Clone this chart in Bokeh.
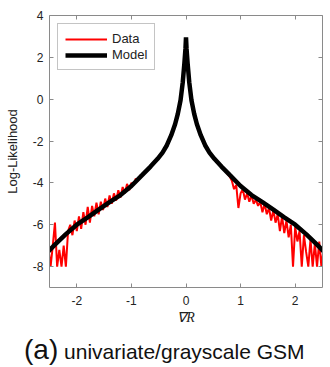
import numpy as np
from bokeh.plotting import figure
from bokeh.layouts import column
from bokeh.models import Range1d, LinearAxis, Legend, LegendItem, FixedTicker, Div
from bokeh.embed import file_html
from bokeh.resources import INLINE

# Model curve
model_x = [-2.55, -2.4, -2.2, -2.0, -1.8, -1.6, -1.4, -1.2, -1.0, -0.8, -0.65, -0.52, -0.43, -0.35,
           -0.27, -0.2, -0.15, -0.1, -0.06, -0.03, -0.01, 0.0,
           0.01, 0.03, 0.06, 0.1, 0.15, 0.2, 0.27, 0.35, 0.43, 0.52, 0.65, 0.8, 1.0, 1.2, 1.4,
           1.6, 1.8, 2.0, 2.2, 2.4, 2.55]
model_y = [-7.35, -6.95, -6.45, -6.0, -5.65, -5.28, -4.92, -4.58, -4.15, -3.62, -3.22, -2.85, -2.55, -2.2,
           -1.72, -1.2, -0.7, -0.05, 0.8, 1.7, 2.4, 2.95,
           2.4, 1.7, 0.8, -0.05, -0.7, -1.2, -1.72, -2.2, -2.55, -2.85, -3.22, -3.62, -4.15, -4.58, -4.92,
           -5.28, -5.65, -6.0, -6.45, -6.95, -7.35]

# Data (empirical histogram), left tail, centre, right tail
left_x = list(np.round(np.arange(-2.52, -0.79, 0.04), 2))
left_y = [-7.1, -8.0, -7.0, -5.9, -8.0, -7.2, -8.0, -7.0, -8.0, -6.3,
          -6.0, -6.5, -5.8, -6.3, -5.6, -6.2, -5.4, -6.0, -5.15, -5.9, -5.1, -5.6,
          -4.95, -5.5, -4.9, -5.3, -4.75, -5.15, -4.6, -5.0, -4.5, -4.85, -4.35, -4.7,
          -4.2, -4.5, -4.05, -4.35, -4.0, -4.1, -3.8, -3.9, -3.65, -3.6]
center_x = [-0.65, -0.52, -0.43, -0.35, -0.27, -0.2, -0.15, -0.1, -0.06, -0.03, -0.01, 0.0,
            0.01, 0.03, 0.06, 0.1, 0.15, 0.2, 0.27, 0.35, 0.43, 0.52, 0.65]
center_y = [-3.22, -2.85, -2.55, -2.2, -1.72, -1.2, -0.7, -0.05, 0.8, 1.7, 2.4, 2.9,
            2.4, 1.7, 0.8, -0.05, -0.7, -1.2, -1.72, -2.2, -2.55, -2.85, -3.22]
right_x = list(np.round(np.arange(0.80, 2.53, 0.04), 2))
right_y = [-3.7, -3.9, -4.3, -4.1, -5.2,
           -4.5, -4.3, -4.8, -4.5, -4.9, -4.6, -5.0, -4.8, -5.1, -4.9, -5.4, -5.0, -5.5,
           -5.2, -5.8, -5.3, -5.9, -5.5, -6.3, -5.6, -6.4, -5.8, -6.6, -6.0, -8.0,
           -6.1, -6.8, -6.3, -8.0, -6.5, -7.3, -8.0, -6.7, -8.0, -6.9, -8.0, -6.8, -8.0, -7.1]

data_x = left_x + center_x + right_x
data_y = left_y + center_y + right_y

x_ticks = [-2, -1, 0, 1, 2]
x_tick_labels = ["-2", "-1", "0", "1", "2"]
y_ticks = [-8, -6, -4, -2, 0, 2, 4]
y_tick_labels = ["-8", "-6", "-4", "-2", "0", "2", "4"]

caption_tag = "(a)"
caption_text = "univariate/grayscale GSM"

FONT = "Liberation Sans"
AX = "#8a8a8a"
TXT = "#222222"

p = figure(width=330, height=333, x_range=Range1d(-2.5, 2.5), y_range=Range1d(-9, 4),
           output_backend="svg", toolbar_location=None,
           min_border_left=49, min_border_right=8, min_border_top=15, min_border_bottom=46,
           x_axis_label="∇R", y_axis_label="Log-Likelihood")
p.outline_line_color = None
p.xgrid.visible = False
p.ygrid.visible = False
p.background_fill_color = "white"
p.border_fill_color = "white"

r_data = p.line(data_x, data_y, line_color="#ff0000", line_width=2)
r_model = p.line(model_x, model_y, line_color="black", line_width=4.5)

# axes styling
for ax, ticks, labs in ((p.xaxis[0], x_ticks, x_tick_labels), (p.yaxis[0], y_ticks, y_tick_labels)):
    ax.ticker = FixedTicker(ticks=ticks)
    ax.major_label_overrides = {t: s for t, s in zip(ticks, labs)}
    ax.minor_tick_line_color = None
    ax.major_tick_in = 4
    ax.major_tick_out = 0
    ax.major_tick_line_color = AX
    ax.axis_line_color = AX
    ax.major_label_text_font = FONT
    ax.major_label_text_font_size = "12px"
    ax.major_label_text_color = TXT
    ax.axis_label_text_color = TXT

p.xaxis[0].major_label_standoff = 8
p.xaxis[0].axis_label_text_font = "Liberation Serif"
p.xaxis[0].axis_label_text_font_style = "italic"
p.xaxis[0].axis_label_text_font_size = "14px"
p.xaxis[0].axis_label_standoff = 2
p.yaxis[0].major_label_standoff = 6
p.yaxis[0].axis_label_text_font = FONT
p.yaxis[0].axis_label_text_font_style = "normal"
p.yaxis[0].axis_label_text_font_size = "13px"
p.yaxis[0].axis_label_standoff = 10

top = LinearAxis(ticker=FixedTicker(ticks=x_ticks))
right = LinearAxis(ticker=FixedTicker(ticks=y_ticks))
for ax in (top, right):
    ax.major_label_text_color = None
    ax.major_label_standoff = 0
    ax.minor_tick_line_color = None
    ax.major_tick_in = 4
    ax.major_tick_out = 0
    ax.major_tick_line_color = AX
    ax.axis_line_color = AX
p.add_layout(top, "above")
p.add_layout(right, "right")

legend = Legend(items=[LegendItem(label="Data", renderers=[r_data]),
                       LegendItem(label="Model", renderers=[r_model])],
                location="top_left", margin=8, padding=7, spacing=1,
                glyph_width=42, glyph_height=14, label_standoff=5,
                label_text_font=FONT, label_text_font_size="13px", label_text_color=TXT,
                label_height=14,
                border_line_color=AX, border_line_width=1, background_fill_alpha=1)
p.add_layout(legend)

cap = Div(text=('<span style="font-size:28px">%s</span>'
                '<span style="font-size:21px">&nbsp;%s</span>') % (caption_tag, caption_text),
          width=330, height=34, margin=0,
          styles={"font-family": "Liberation Sans", "color": "#111111",
                  "line-height": "34px", "padding-left": "24px", "white-space": "nowrap"})

layout = column(p, cap, spacing=0, margin=0)
open("out.html", "w").write(file_html(layout, INLINE))
